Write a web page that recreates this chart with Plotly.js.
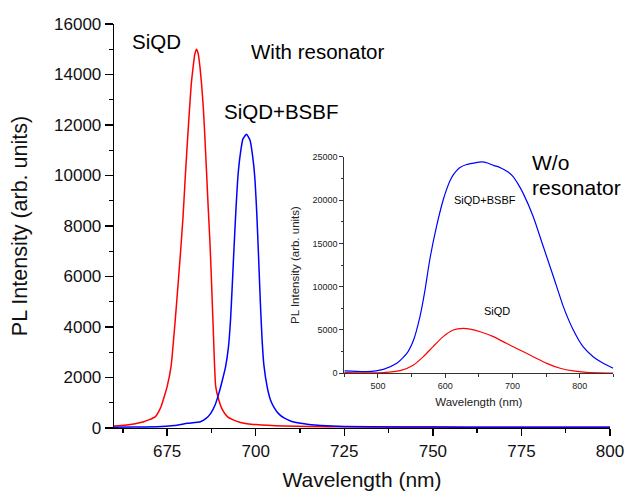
<!DOCTYPE html>
<html>
<head>
<meta charset="utf-8">
<script src="https://cdn.plot.ly/plotly-3.0.1.min.js"></script>
<style>html,body{margin:0;padding:0;background:#fff;}#chart{width:630px;height:492px;}</style>
</head>
<body>
<div id="chart"></div>
<script>
// Main panel (with resonator): SiQD
var siqdWl = [660,663,666,668.4,670,671.7,672.5,673.3,674.2,675,676.1,677.3,678.2,678.8,679.5,680.1,680.7,681.3,681.8,682.3,682.8,683.3,683.8,684.3,684.7,685.2,685.6,686.1,686.6,687.1,687.6,688.1,688.7,689.6,690.5,692,693.5,695.7,698,700,703.3,708,715,725,740,760,780,800];
var siqdI  = [80,110,170,250,330,450,620,850,1250,1640,2430,4300,5900,7000,8400,9900,11300,12600,13600,14250,14800,15000,14800,14250,13650,12700,11670,10200,8700,7300,5500,3600,1650,1100,750,450,330,220,160,135,105,80,60,45,38,32,28,25];
// Main panel: SiQD+BSBF
var bsbfWl = [660,665,672.2,677,680.7,684.4,686,687.3,688.5,689.6,690.6,691.5,692.3,692.9,693.4,693.9,694.4,695,695.7,696.4,697.4,698.4,699.1,699.7,700.3,700.8,701.3,701.8,702.3,703.3,704.2,705.2,706.5,708,710,712.7,715,718.4,725,740,760,780,800];
var bsbfI  = [30,40,50,100,185,250,380,580,900,1370,1900,2430,3200,4300,5700,7200,8600,10000,10900,11450,11630,11400,10800,10000,8500,6800,5000,3500,2500,1580,1100,810,560,400,270,185,140,100,60,40,32,28,25];
// Inset (without resonator)
var insBsbfWl = [450,483,508,528,543,553,562.5,570,577,587,597,602,607,612,617,622,632,642,654,664,671.6,680,686.5,694,701,708,716,731,746,761,775.7,790.5,805,820,835,850];
var insBsbfI  = [270,190,460,1150,2300,3850,6540,9600,13080,16900,20000,21200,22200,22900,23400,23750,24100,24250,24400,24250,24000,23800,23550,23200,22700,21900,20770,18080,14600,11150,7700,5000,3080,1920,1150,580];
var insSiqdWl = [450,508,533,553,567.5,582,597,612,627,637,652,671.6,691,711,731,751,771,790.5,810,850];
var insSiqdI  = [80,80,300,960,1920,3080,4230,5000,5190,5100,4800,4230,3460,2690,1920,1150,580,270,115,20];

var mainXTicks = [675,700,725,750,775,800];
var mainYTicks = [0,2000,4000,6000,8000,10000,12000,14000,16000];
var insXTicks = [500,600,700,800];
var insYTicks = [0,5000,10000,15000,20000,25000];

var FONT = 'Liberation Sans, Arial, sans-serif';
var RED = '#ff0000', BLUE = '#0000ff';

var traces = [
  {x: siqdWl, y: siqdI, type:'scatter', mode:'lines', line:{color:RED, width:1.5, shape:'spline', smoothing:0.5}, xaxis:'x', yaxis:'y', hoverinfo:'skip'},
  {x: bsbfWl, y: bsbfI, type:'scatter', mode:'lines', line:{color:BLUE, width:1.5, shape:'spline', smoothing:0.5}, xaxis:'x', yaxis:'y', hoverinfo:'skip'},
  {x: insBsbfWl, y: insBsbfI, type:'scatter', mode:'lines', line:{color:BLUE, width:1.2, shape:'spline', smoothing:0.6}, xaxis:'x2', yaxis:'y2', hoverinfo:'skip'},
  {x: insSiqdWl, y: insSiqdI, type:'scatter', mode:'lines', line:{color:RED, width:1.2, shape:'spline', smoothing:0.6}, xaxis:'x2', yaxis:'y2', hoverinfo:'skip'}
];

function px2x(p){ return (p-114)/500; }
function px2y(p){ return (428-p)/404; }

var ann = function(text, px, py, size){
  return {text:text, xref:'paper', yref:'paper', x:px2x(px), y:px2y(py), xanchor:'left', yanchor:'middle', showarrow:false, font:{family:FONT, size:size, color:'#000'}, borderpad:0};
};

var layout = {
  width:630, height:492,
  margin:{l:114, r:16, t:24, b:64},
  paper_bgcolor:'#fff', plot_bgcolor:'rgba(0,0,0,0)',
  showlegend:false,
  font:{family:FONT, color:'#000'},
  xaxis:{
    domain:[0, 0.992], range:[660,800], tickvals:mainXTicks, ticktext:mainXTicks.map(String),
    showline:true, linecolor:'#000', linewidth:1.3, mirror:false,
    ticks:'outside', ticklen:7, tickwidth:1.3, tickcolor:'#000',
    minor:{ticks:'outside', ticklen:4, tickwidth:1.3, tickcolor:'#000', dtick:12.5, tick0:662.5, showgrid:false},
    showgrid:false, zeroline:false,
    tickfont:{family:FONT, size:17, color:'#111'},
    title:{text:'Wavelength (nm)', font:{family:FONT, size:21, color:'#111'}, standoff:12},
    automargin:false, anchor:'y'
  },
  yaxis:{
    domain:[0,1], range:[0,16000], tickvals:mainYTicks, ticktext:mainYTicks.map(String),
    showline:true, linecolor:'#000', linewidth:1.3,
    ticks:'outside', ticklen:8, tickwidth:1.3, tickcolor:'#000',
    minor:{ticks:'outside', ticklen:4, tickwidth:1.3, tickcolor:'#000', dtick:1000, showgrid:false},
    showgrid:false, zeroline:false,
    tickfont:{family:FONT, size:17, color:'#111'},
    title:{text:'PL Intensity (arb. units)', font:{family:FONT, size:21.5, color:'#111'}, standoff:20},
    automargin:false, anchor:'x'
  },
  xaxis2:{
    domain:[0.4606, 0.9986], range:[450,850], tickvals:insXTicks, ticktext:insXTicks.map(String),
    showline:true, linecolor:'#333', linewidth:1,
    ticks:'outside', ticklen:4, tickwidth:1, tickcolor:'#333',
    minor:{ticks:'outside', ticklen:2.5, tickwidth:1, tickcolor:'#333', dtick:50, showgrid:false},
    showgrid:false, zeroline:false,
    tickfont:{family:FONT, size:9, color:'#222'},
    title:{text:'Wavelength (nm)', font:{family:FONT, size:11.5, color:'#222'}, standoff:7},
    anchor:'y2', automargin:false
  },
  yaxis2:{
    domain:[0.1354, 0.6715], range:[0,25000], tickvals:insYTicks, ticktext:insYTicks.map(String),
    showline:true, linecolor:'#333', linewidth:1,
    ticks:'outside', ticklen:4, tickwidth:1, tickcolor:'#333',
    minor:{ticks:'outside', ticklen:2.5, tickwidth:1, tickcolor:'#333', dtick:2500, showgrid:false},
    showgrid:false, zeroline:false,
    tickfont:{family:FONT, size:9, color:'#222'},
    title:{text:'PL Intensity (arb. units)', font:{family:FONT, size:11.5, color:'#222'}, standoff:10},
    anchor:'x2', automargin:false
  },
  annotations:[
    ann('SiQD', 131, 41, 20.5),
    ann('With resonator', 250, 52, 20.5),
    ann('SiQD+BSBF', 223, 112, 20.5),
    ann('W/o', 531, 162, 21),
    ann('resonator', 531, 187, 21),
    ann('SiQD+BSBF', 453, 200, 11),
    ann('SiQD', 482.5, 311, 11)
  ]
};

Plotly.newPlot('chart', traces, layout, {staticPlot:true, displayModeBar:false});
</script>
</body>
</html>
